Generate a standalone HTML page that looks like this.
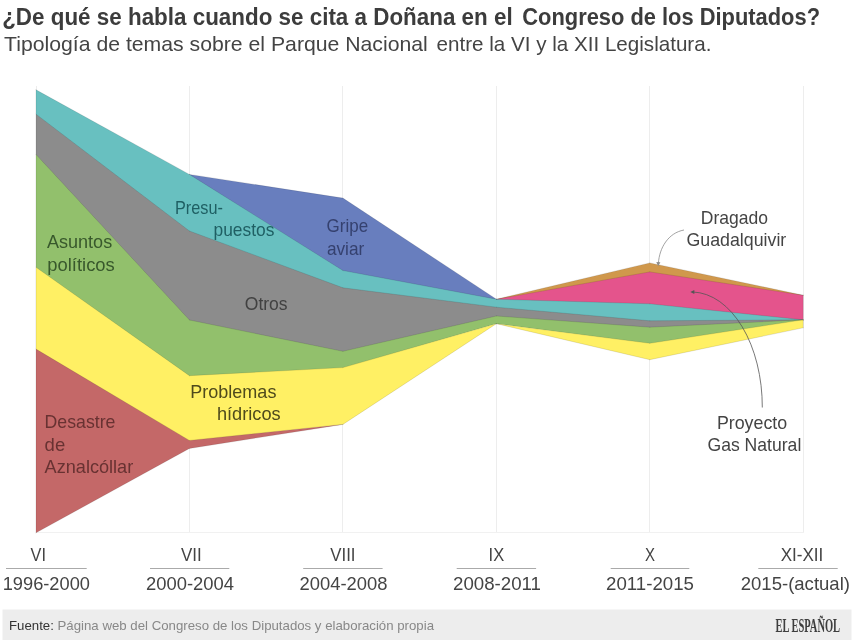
<!DOCTYPE html>
<html lang="es"><head><meta charset="utf-8"><title>Doñana en el Congreso</title>
<style>html,body{margin:0;padding:0;background:#fff}svg{display:block}text{font-family:"Liberation Sans",sans-serif}</style>
</head><body>
<svg width="854" height="640" viewBox="0 0 854 640">
<rect width="854" height="640" fill="#fff"/>
<text y="24.5" font-size="23" font-weight="bold" fill="#3c3c3c"><tspan x="2.2" textLength="510.5" lengthAdjust="spacingAndGlyphs">¿De qué se habla cuando se cita a Doñana en el</tspan> <tspan x="522.3" textLength="297.7" lengthAdjust="spacingAndGlyphs">Congreso de los Diputados?</tspan></text>
<text y="50.8" font-size="20.7" fill="#444"><tspan x="4" textLength="423.8" lengthAdjust="spacingAndGlyphs">Tipología de temas sobre el Parque Nacional</tspan> <tspan x="436.6" textLength="274.8" lengthAdjust="spacingAndGlyphs">entre la VI y la XII Legislatura.</tspan></text>
<g stroke="#ededed" stroke-width="1" shape-rendering="crispEdges"><line x1="36.5" x2="36.5" y1="86" y2="533"/><line x1="189.5" x2="189.5" y1="86" y2="533"/><line x1="342.5" x2="342.5" y1="86" y2="533"/><line x1="496.5" x2="496.5" y1="86" y2="533"/><line x1="649.5" x2="649.5" y1="86" y2="533"/><line x1="803.5" x2="803.5" y1="86" y2="533"/><line x1="36" x2="804" y1="532.5" y2="532.5" stroke="#f1f1f1"/></g>
<g><polygon fill="#d0984c" points="496.4,299.2 649.8,262.9 803.2,295.2 803.2,296.0 649.8,272.7 496.4,300.0"/><polygon fill="#e4548c" points="496.4,299.2 649.8,271.9 803.2,295.2 803.2,320.6 649.8,304.6 496.4,300.0"/><polygon fill="#687ebe" points="189.4,174.4 342.9,198.1 496.4,299.2 496.4,300.0 342.9,271.3 189.4,175.2"/><polygon fill="#68c0c0" points="36.0,89.8 189.4,174.4 342.9,270.5 496.4,299.2 649.8,303.8 803.2,319.8 803.2,320.6 649.8,321.6 496.4,308.0 342.9,288.6 189.4,231.8 36.0,115.0"/><polygon fill="#8c8c8c" points="36.0,114.2 189.4,231.0 342.9,287.8 496.4,307.2 649.8,320.8 803.2,319.8 803.2,320.6 649.8,328.0 496.4,316.8 342.9,352.1 189.4,320.8 36.0,155.3"/><polygon fill="#92c06c" points="36.0,154.5 189.4,320.0 342.9,351.3 496.4,316.0 649.8,327.2 803.2,319.8 803.2,320.6 649.8,344.1 496.4,323.7 342.9,368.4 189.4,376.5 36.0,268.1"/><polygon fill="#fff064" points="36.0,267.3 189.4,375.7 342.9,367.6 496.4,323.7 649.8,343.3 803.2,319.8 803.2,327.8 649.8,359.7 496.4,323.7 342.9,424.4 189.4,441.2 36.0,349.9"/><polygon fill="#c46868" points="36.0,349.1 189.4,440.4 342.9,424.4 342.9,424.4 189.4,448.5 36.0,532.8"/><g stroke="#000" stroke-opacity="0.18" stroke-width="0.6" stroke-linecap="round"><line x1="36.0" y1="89.8" x2="189.4" y2="174.4"/><line x1="36.0" y1="114.2" x2="189.4" y2="231.0"/><line x1="36.0" y1="154.5" x2="189.4" y2="320.0"/><line x1="36.0" y1="267.3" x2="189.4" y2="375.7"/><line x1="36.0" y1="349.1" x2="189.4" y2="440.4"/><line x1="36.0" y1="532.8" x2="189.4" y2="448.5"/><line x1="189.4" y1="174.4" x2="342.9" y2="198.1"/><line x1="189.4" y1="174.4" x2="342.9" y2="270.5"/><line x1="189.4" y1="231.0" x2="342.9" y2="287.8"/><line x1="189.4" y1="320.0" x2="342.9" y2="351.3"/><line x1="189.4" y1="375.7" x2="342.9" y2="367.6"/><line x1="189.4" y1="440.4" x2="342.9" y2="424.4"/><line x1="189.4" y1="448.5" x2="342.9" y2="424.4"/><line x1="342.9" y1="198.1" x2="496.4" y2="299.2"/><line x1="342.9" y1="270.5" x2="496.4" y2="299.2"/><line x1="342.9" y1="287.8" x2="496.4" y2="307.2"/><line x1="342.9" y1="351.3" x2="496.4" y2="316.0"/><line x1="342.9" y1="367.6" x2="496.4" y2="323.7"/><line x1="342.9" y1="424.4" x2="496.4" y2="323.7"/><line x1="496.4" y1="299.2" x2="649.8" y2="262.9"/><line x1="496.4" y1="299.2" x2="649.8" y2="271.9"/><line x1="496.4" y1="299.2" x2="649.8" y2="303.8"/><line x1="496.4" y1="307.2" x2="649.8" y2="320.8"/><line x1="496.4" y1="316.0" x2="649.8" y2="327.2"/><line x1="496.4" y1="323.7" x2="649.8" y2="343.3"/><line x1="496.4" y1="323.7" x2="649.8" y2="359.7"/><line x1="649.8" y1="262.9" x2="803.2" y2="295.2"/><line x1="649.8" y1="271.9" x2="803.2" y2="295.2"/><line x1="649.8" y1="303.8" x2="803.2" y2="319.8"/><line x1="649.8" y1="320.8" x2="803.2" y2="319.8"/><line x1="649.8" y1="327.2" x2="803.2" y2="319.8"/><line x1="649.8" y1="343.3" x2="803.2" y2="319.8"/><line x1="649.8" y1="359.7" x2="803.2" y2="327.8"/><line x1="36" y1="89.8" x2="36" y2="532.8"/><line x1="803.25" y1="295.2" x2="803.25" y2="327.8"/></g></g>
<g><text x="46.9" y="247.8" font-size="18.5" text-anchor="start" textLength="65.3" lengthAdjust="spacingAndGlyphs" fill="#38582c">Asuntos</text><text x="47.3" y="270.6" font-size="18.5" text-anchor="start" textLength="67.5" lengthAdjust="spacingAndGlyphs" fill="#38582c">políticos</text><text x="44.6" y="428.1" font-size="18.5" text-anchor="start" textLength="70.8" lengthAdjust="spacingAndGlyphs" fill="#683232">Desastre</text><text x="44.6" y="450.6" font-size="18.5" text-anchor="start" fill="#683232">de</text><text x="44.6" y="472.8" font-size="18.5" text-anchor="start" textLength="88.6" lengthAdjust="spacingAndGlyphs" fill="#683232">Aznalcóllar</text><text x="175.0" y="214.4" font-size="18.5" text-anchor="start" textLength="47.9" lengthAdjust="spacingAndGlyphs" fill="#1f5f63">Presu-</text><text x="213.5" y="235.6" font-size="18.5" text-anchor="start" textLength="60.9" lengthAdjust="spacingAndGlyphs" fill="#1f5f63">puestos</text><text x="326.6" y="232.3" font-size="18.5" text-anchor="start" textLength="41.5" lengthAdjust="spacingAndGlyphs" fill="#35416f">Gripe</text><text x="326.9" y="254.6" font-size="18.5" text-anchor="start" textLength="37.4" lengthAdjust="spacingAndGlyphs" fill="#35416f">aviar</text><text x="244.8" y="309.6" font-size="18.5" text-anchor="start" textLength="42.8" lengthAdjust="spacingAndGlyphs" fill="#414141">Otros</text><text x="190.3" y="397.9" font-size="18.5" text-anchor="start" textLength="86.1" lengthAdjust="spacingAndGlyphs" fill="#4f4a1c">Problemas</text><text x="216.9" y="420.4" font-size="18.5" text-anchor="start" textLength="63.8" lengthAdjust="spacingAndGlyphs" fill="#4f4a1c">hídricos</text><text x="700.8" y="224.3" font-size="18.5" text-anchor="start" textLength="67.2" lengthAdjust="spacingAndGlyphs" fill="#444">Dragado</text><text x="686.5" y="246.3" font-size="18.5" text-anchor="start" textLength="99.8" lengthAdjust="spacingAndGlyphs" fill="#444">Guadalquivir</text><text x="716.9" y="428.5" font-size="18.5" text-anchor="start" textLength="70.3" lengthAdjust="spacingAndGlyphs" fill="#444">Proyecto</text><text x="707.5" y="451.0" font-size="18.5" text-anchor="start" textLength="93.8" lengthAdjust="spacingAndGlyphs" fill="#444">Gas Natural</text></g>
<g fill="none" stroke="#8c8c8c" stroke-width="0.8"><path d="M684,230 C668,233 659.5,248 658.4,263"/></g>
<polygon fill="#8c8c8c" points="656.3,262 660.4,262.2 658.2,266.2"/>
<g fill="none" stroke="#555" stroke-width="0.8"><path d="M762.3,407.5 A71,115 0 0 0 693,292"/></g>
<polygon fill="#555" points="694.3,290 694.3,294 690.3,292"/>
<g><text x="30.6" y="560.7" font-size="18.5" text-anchor="start" textLength="15.4" lengthAdjust="spacingAndGlyphs" fill="#444">VI</text><line x1="6.0" x2="86.7" y1="568.5" y2="568.5" stroke="#aaa" stroke-width="1"/><text x="2.7" y="590.0" font-size="18.5" text-anchor="start" textLength="87.3" lengthAdjust="spacingAndGlyphs" fill="#444">1996-2000</text><text x="181.0" y="560.7" font-size="18.5" text-anchor="start" textLength="20.7" lengthAdjust="spacingAndGlyphs" fill="#444">VII</text><line x1="150.0" x2="229.3" y1="568.5" y2="568.5" stroke="#aaa" stroke-width="1"/><text x="146.0" y="590.0" font-size="18.5" text-anchor="start" textLength="88.0" lengthAdjust="spacingAndGlyphs" fill="#444">2000-2004</text><text x="330.3" y="560.7" font-size="18.5" text-anchor="start" textLength="25.2" lengthAdjust="spacingAndGlyphs" fill="#444">VIII</text><line x1="303.2" x2="382.6" y1="568.5" y2="568.5" stroke="#aaa" stroke-width="1"/><text x="299.5" y="590.0" font-size="18.5" text-anchor="start" textLength="88.0" lengthAdjust="spacingAndGlyphs" fill="#444">2004-2008</text><text x="488.6" y="560.7" font-size="18.5" text-anchor="start" textLength="15.6" lengthAdjust="spacingAndGlyphs" fill="#444">IX</text><line x1="456.7" x2="536.1" y1="568.5" y2="568.5" stroke="#aaa" stroke-width="1"/><text x="453.0" y="590.0" font-size="18.5" text-anchor="start" textLength="88.0" lengthAdjust="spacingAndGlyphs" fill="#444">2008-2011</text><text x="645.0" y="560.7" font-size="18.5" text-anchor="start" textLength="10.0" lengthAdjust="spacingAndGlyphs" fill="#444">X</text><line x1="610.7" x2="689.3" y1="568.5" y2="568.5" stroke="#aaa" stroke-width="1"/><text x="606.0" y="590.0" font-size="18.5" text-anchor="start" textLength="88.0" lengthAdjust="spacingAndGlyphs" fill="#444">2011-2015</text><text x="780.7" y="560.7" font-size="18.5" text-anchor="start" textLength="42.6" lengthAdjust="spacingAndGlyphs" fill="#444">XI-XII</text><line x1="758.3" x2="837.7" y1="568.5" y2="568.5" stroke="#aaa" stroke-width="1"/><text x="740.7" y="590.0" font-size="18.5" text-anchor="start" textLength="109.3" lengthAdjust="spacingAndGlyphs" fill="#444">2015-(actual)</text></g>
<rect x="2.5" y="609.5" width="849" height="31" fill="#ededed"/>
<text x="9" y="629.5" font-size="13" textLength="425" lengthAdjust="spacingAndGlyphs"><tspan fill="#333">Fuente:</tspan><tspan fill="#888"> Página web del Congreso de los Diputados y elaboración propia</tspan></text>
<text x="775.4" y="631.8" font-size="18.2" font-weight="bold" fill="#3e3e3e" textLength="64.7" lengthAdjust="spacingAndGlyphs" style="font-family:'Liberation Serif',serif">EL ESPAÑOL</text>
</svg>
</body></html>
